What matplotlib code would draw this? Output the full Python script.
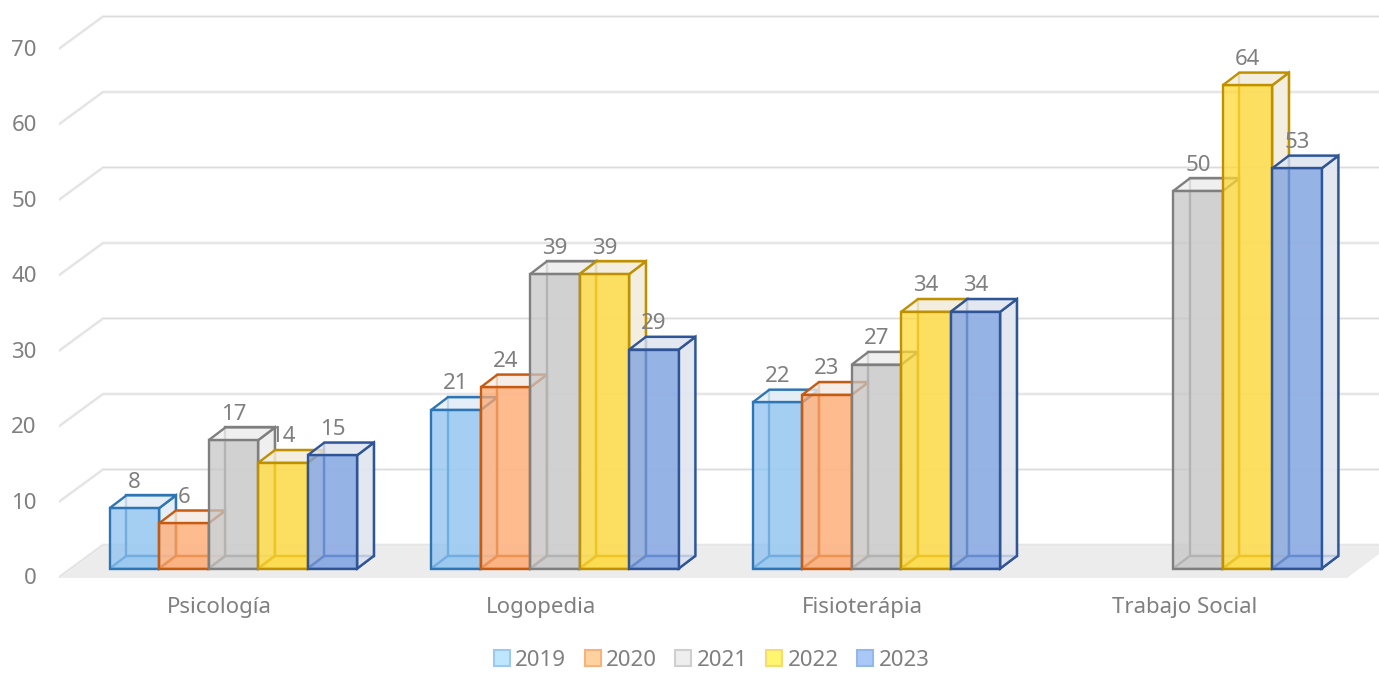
import numpy as np
import matplotlib
matplotlib.use("Agg")
import matplotlib.pyplot as plt
from matplotlib.colors import to_rgba
from matplotlib.patches import Patch, Polygon
from matplotlib.transforms import ScaledTranslation

plt.rcParams['font.family'] = ['Noto Sans', 'DejaVu Sans']

categories = ['Psicología', 'Logopedia', 'Fisioterápia', 'Trabajo Social']
years = ['2019', '2020', '2021', '2022', '2023']
v2019 = [8, 21, 22, None]
v2020 = [6, 24, 23, None]
v2021 = [17, 39, 27, 50]
v2022 = [14, 39, 34, 64]
v2023 = [15, 29, 34, 53]
series = [v2019, v2020, v2021, v2022, v2023]
yticks = [0, 10, 20, 30, 40, 50, 60, 70]

front_cols = ['#8cc2f0', '#ffa86e', '#c6c6c6', '#ffd933', '#7a9fe2']
side_cols = ['#e4eef6', '#f6ede6', '#efefef', '#f3eedf', '#e1e6f0']
edge_cols = ['#2e75b6', '#c55a11', '#7f7f7f', '#bf9000', '#2f5597']
leg_fill = ['#bfe6ff', '#ffd3a0', '#eeeeee', '#fff56e', '#a9c8f8']
leg_edge = ['#9dc8ef', '#f7b27e', '#cfcfcf', '#f5dc70', '#94b7ea']
text_col = '#7f7f7f'

W, H = 1379, 673
X_PX = 321.5   # pixels per category
Y_PX = 7.55    # pixels per unit
BAR_W = 49.5 / X_PX
BAR_SHIFT = 13.7 / X_PX
DX, DY = 16.7 / X_PX, 12.7 / Y_PX   # bar depth
WALL_DX, WALL_DY = 44 / X_PX, 33 / Y_PX   # floor depth
Y_FRONT = -9.5 / Y_PX

fig = plt.figure(figsize=(W / 100, H / 100), dpi=100)
ax = fig.add_axes([59 / W, 1 - 578 / H, 1 - 59 / W, 578 / H])
ax.set_xlim(-0.5, -0.5 + (W - 59) / X_PX)
ax.set_ylim(Y_FRONT, 568.5 / Y_PX)
for s in ax.spines.values():
    s.set_visible(False)

# floor and walls
floor_end = 3.5 + 2 / X_PX
ax.add_patch(Polygon([(-0.5, Y_FRONT), (floor_end, Y_FRONT),
                      (floor_end + WALL_DX, Y_FRONT + WALL_DY),
                      (-0.5 + WALL_DX, Y_FRONT + WALL_DY)],
                     fc='#ececec', ec='none', zorder=1))
for t in yticks:
    xs = [-0.5, -0.5 + WALL_DX, floor_end + WALL_DX]
    ys = [t + Y_FRONT + 0.1, t + Y_FRONT + WALL_DY, t + Y_FRONT + WALL_DY]
    ax.plot(xs, ys, color='#f0f0f0', lw=2.2, zorder=1.1, solid_joinstyle='miter')
    ax.plot(xs, ys, color='#dcdcdc', lw=0.7, zorder=1.2, solid_joinstyle='miter')

z = 2
for i in range(len(categories)):
    for j in range(len(years)):
        val = series[j][i]
        if val is None:
            continue
        x0 = i + BAR_SHIFT + (j - 2.5) * BAR_W
        x1 = x0 + BAR_W
        ec = edge_cols[j]
        kw = dict(ec=ec, lw=1.7, joinstyle='miter')
        # hidden faces first
        ax.add_patch(Polygon([(x0, 0), (x1, 0), (x1 + DX, DY), (x0 + DX, DY)],
                             fc=to_rgba(front_cols[j], 0.35), zorder=z, **kw))
        ax.add_patch(Polygon([(x0 + DX, DY), (x1 + DX, DY), (x1 + DX, val + DY), (x0 + DX, val + DY)],
                             fc=to_rgba(side_cols[j], 0.75), zorder=z, **kw))
        ax.add_patch(Polygon([(x1, 0), (x1 + DX, DY), (x1 + DX, val + DY), (x1, val)],
                             fc=to_rgba(side_cols[j], 0.8), zorder=z + 0.1, **kw))
        ax.add_patch(Polygon([(x0, val), (x1, val), (x1 + DX, val + DY), (x0 + DX, val + DY)],
                             fc=to_rgba(side_cols[j], 0.8), zorder=z + 0.1, **kw))
        ax.bar(x0, val, BAR_W, align='edge', color=to_rgba(front_cols[j], 0.74),
               edgecolor=ec, linewidth=1.7, zorder=z + 0.2)
        ax.text(x0 + BAR_W / 2, val + 26 / Y_PX, str(val), ha='center', va='center',
                fontsize=16, color=text_col, zorder=50)
        z += 1

ax.set_xticks(range(len(categories)))
ax.set_xticklabels(categories)
ax.set_yticks(yticks)
ax.tick_params(axis='x', length=0, pad=14, labelsize=16, labelcolor=text_col)
ax.tick_params(axis='y', length=0, pad=16, labelsize=16, labelcolor=text_col)
# value labels sit lower than the front gridline ends
down = ScaledTranslation(0, -7.8 / 100, fig.dpi_scale_trans)
for lab in ax.get_yticklabels():
    lab.set_transform(lab.get_transform() + down)

handles = [Patch(fc=leg_fill[k], ec=leg_edge[k], lw=1.5, label=years[k]) for k in range(len(years))]
fig.legend(handles=handles, loc='center', bbox_to_anchor=(711.5 / W, 1 - 660 / H), ncol=5,
           frameon=False, fontsize=16, labelcolor=text_col, handlelength=0.72,
           handleheight=0.72, handletextpad=0.25, columnspacing=0.82, borderpad=0)

fig.savefig('out.png', dpi=100)
